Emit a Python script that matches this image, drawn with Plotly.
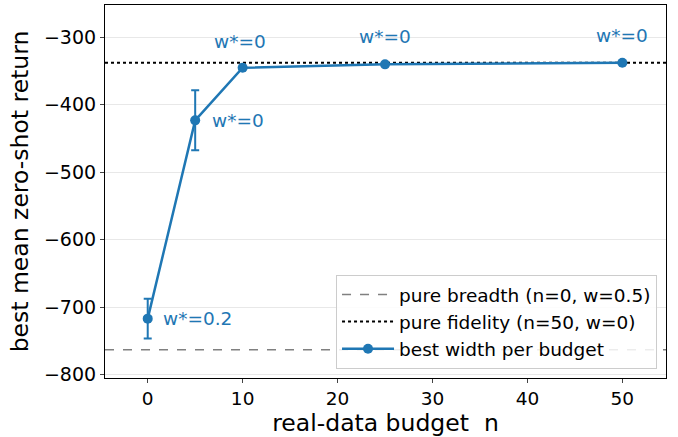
import plotly.graph_objects as go

budgets = [0, 5, 10, 25, 50]
best_return = [-717, -423, -345, -340, -337.5]
err = [29.5, 44.5, 0, 0, 0]
labels = ["w*=0.2", "w*=0", "w*=0", "w*=0", "w*=0"]
pure_breadth = -763
pure_fidelity = -337.5
x_range = [-4.5, 54.6]
y_range = [-805, -252]

blue = "#1f77b4"
font = "DejaVu Sans"

fig = go.Figure()
fig.add_trace(go.Scatter(x=x_range, y=[pure_breadth]*2, mode="lines",
                         line=dict(color="gray", dash="dash", width=1.5),
                         name="pure breadth (n=0, w=0.5)"))
fig.add_trace(go.Scatter(x=x_range, y=[pure_fidelity]*2, mode="lines",
                         line=dict(color="black", dash="dot", width=2),
                         name="pure fidelity (n=50, w=0)"))
fig.add_trace(go.Scatter(x=budgets, y=best_return, mode="lines+markers",
                         line=dict(color=blue, width=2.5),
                         marker=dict(color=blue, size=10),
                         error_y=dict(type="data", array=err, visible=True,
                                      color=blue, thickness=2, width=4),
                         name="best width per budget"))

# label offsets (pixels) for the w* annotations
offs = [(50, 0), (43, 0), (-3, -26), (0, -28), (0, -27)]
for xv, yv, t, (ax, ay) in zip(budgets, best_return, labels, offs):
    fig.add_annotation(x=xv, y=yv, text=t, showarrow=True, arrowcolor="rgba(0,0,0,0)",
                       ax=ax, ay=ay, font=dict(size=18.5, color=blue, family=font))

fig.update_layout(
    width=678, height=437,
    margin=dict(l=105, r=12, t=5, b=59),
    plot_bgcolor="white", paper_bgcolor="white",
    font=dict(family=font, size=18.5, color="black"),
    showlegend=True,
    legend=dict(x=0.984, y=0.024, xanchor="right", yanchor="bottom",
                bgcolor="rgba(255,255,255,0.85)", bordercolor="#cccccc", borderwidth=1,
                font=dict(size=18.5, family=font), tracegroupgap=0, itemwidth=52),
)
fig.update_xaxes(range=x_range, tickvals=[0, 10, 20, 30, 40, 50], automargin=False,
                 showgrid=False, zeroline=False, showline=True, mirror=True,
                 linecolor="black", linewidth=1.2, ticks="outside", ticklen=4,
                 tickfont=dict(size=18.5),
                 title=dict(text="real-data budget  n", font=dict(size=23.5), standoff=4))
fig.update_yaxes(range=y_range, tickvals=[-800, -700, -600, -500, -400, -300], automargin=False,
                 ticktext=["\u2212800", "\u2212700", "\u2212600", "\u2212500", "\u2212400", "\u2212300"],
                 showgrid=True, gridcolor="#e8e8e8", gridwidth=1, zeroline=False,
                 showline=True, mirror=True, linecolor="black", linewidth=1.2,
                 ticks="outside", ticklen=4, tickfont=dict(size=19),
                 title=dict(text="best mean zero-shot return", font=dict(size=23.5), standoff=8))

fig.write_html("out.html", config={"displayModeBar": False},
               post_script="document.body.style.margin='0';")
